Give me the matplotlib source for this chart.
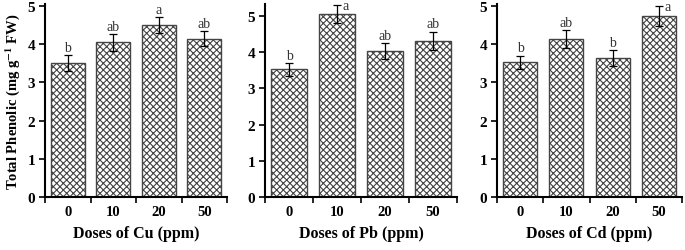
import matplotlib.pyplot as plt
import numpy as np

plt.rcParams['font.family'] = ['Liberation Serif', 'DejaVu Serif']
plt.rcParams['mathtext.fontset'] = 'stix'
plt.rcParams['hatch.color'] = '#444444'
plt.rcParams['hatch.linewidth'] = 0.8

doses = ["0", "10", "20", "50"]
metals = ["Cu", "Pb", "Cd"]

cu_vals = [3.50, 4.05, 4.50, 4.14]
cu_err = [0.21, 0.22, 0.20, 0.20]
cu_letters = ["b", "ab", "a", "ab"]

pb_vals = [3.53, 5.05, 4.02, 4.32]
pb_err = [0.18, 0.25, 0.22, 0.25]
pb_letters = ["b", "a", "ab", "ab"]

cd_vals = [3.52, 4.13, 3.64, 4.74]
cd_err = [0.18, 0.24, 0.21, 0.27]
cd_letters = ["b", "ab", "b", "a"]

vals = [cu_vals, pb_vals, cd_vals]
errs = [cu_err, pb_err, cd_err]
letters = [cu_letters, pb_letters, cd_letters]
ytops = [5.05, 5.33, 5.05]
# letters that sit beside the cap instead of above it
side = [[], [1], [3]]

fig = plt.figure(figsize=(6.85, 2.51), dpi=100)
W, H = 685, 251
lefts = [45, 265, 497]
rights = [227, 457, 682]
bottom_px, top_px = 198, 5

x = np.arange(len(doses))
for k in range(3):
    ax = fig.add_axes([lefts[k] / W, 1 - bottom_px / H,
                       (rights[k] - lefts[k]) / W, (bottom_px - top_px) / H])
    ax.bar(x, vals[k], width=0.74, color='white', edgecolor='#444444',
           linewidth=1.0, hatch='xxxxx', zorder=2)
    ax.errorbar(x, vals[k], yerr=errs[k], fmt='none', ecolor='black',
                elinewidth=0.9, capsize=3, capthick=0.9, zorder=3)
    for i in x:
        top = vals[k][i] + errs[k][i]
        if i in side[k]:
            ax.text(i + 0.12, top - 0.02, letters[k][i], ha='left', va='center',
                    fontsize=10, color='#333333')
        else:
            ax.text(i, top + 0.03, letters[k][i], ha='center', va='bottom',
                    fontsize=10, color='#333333')
    ax.set_xlim(-0.5, 3.5)
    ax.set_ylim(0, ytops[k])
    ax.set_yticks([0, 1, 2, 3, 4, 5])
    ax.set_xticks(np.arange(-0.5, 4, 1))
    ax.set_xticklabels([])
    ax.set_xticks(x, minor=True)
    ax.set_xticklabels(doses, minor=True, fontweight='bold', fontsize=10.5)
    ax.tick_params(axis='x', which='minor', length=0, pad=6)
    ax.tick_params(axis='x', which='major', length=4, width=1.2, direction='out')
    ax.tick_params(axis='y', length=4, width=1.2, direction='out', pad=3)
    for lab in ax.get_yticklabels():
        lab.set_fontweight('bold')
        lab.set_fontsize(11)
    for s in ['top', 'right']:
        ax.spines[s].set_visible(False)
    for s in ['left', 'bottom']:
        ax.spines[s].set_linewidth(1.5)
    ax.set_xlabel("Doses of %s (ppm)" % metals[k], fontweight='bold',
                  fontsize=11.5, labelpad=5)
    if k == 0:
        ax.set_ylabel(r"Total Phenolic (mg g$^{\mathbf{-1}}$ FW)", fontweight='bold',
                      fontsize=10.5, labelpad=4)

fig.savefig("out.png", dpi=100)
